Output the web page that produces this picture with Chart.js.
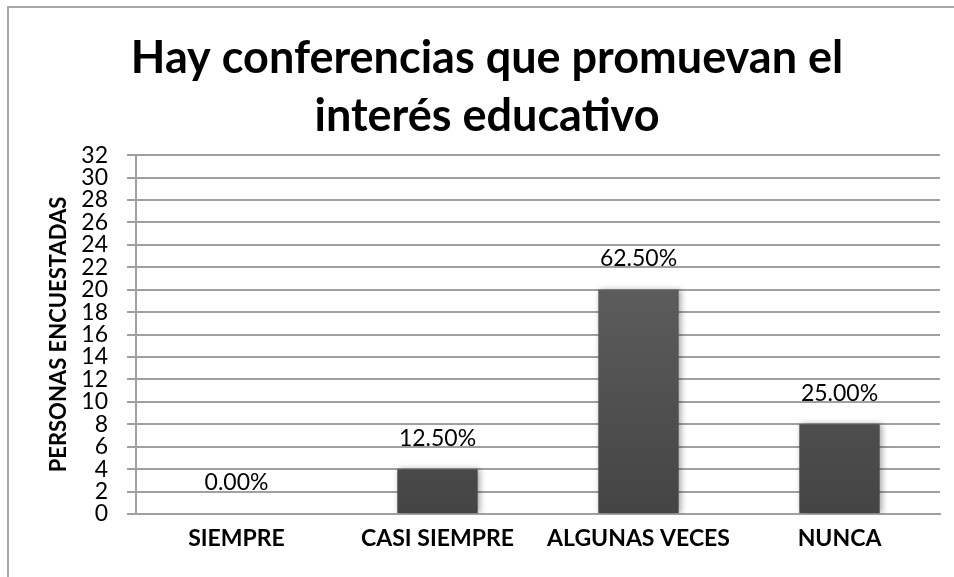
<!DOCTYPE html>
<html lang="es">
<head>
<meta charset="UTF-8">
<title>Conferencias</title>
<style>
    html, body { margin: 0; padding: 0; background: #fff; overflow: hidden; }
    .marco { position: absolute; left: 0; top: 0; width: 954px; height: 577px; }
    .marco::before {
        content: ""; position: absolute; left: 7px; top: 6px; width: 2000px; height: 2000px;
        border-left: 2px solid #a6a6a6; border-top: 2px solid #a6a6a6; pointer-events: none;
    }
    canvas { display: block; }
</style>
</head>
<body>
<div class="marco">
    <canvas id="grafico" width="954" height="577"></canvas>
</div>

<script src="https://cdn.jsdelivr.net/npm/chart.js"></script>
<script>
    // datos
    var categorias = ['SIEMPRE', 'CASI SIEMPRE', 'ALGUNAS VECES', 'NUNCA'];
    var personas = [0, 4, 20, 8];
    var porcentajes = ['0.00%', '12.50%', '62.50%', '25.00%'];
    var ticksY = [0, 2, 4, 6, 8, 10, 12, 14, 16, 18, 20, 22, 24, 26, 28, 30, 32];

    var fuente = 'Lato, "Open Sans", sans-serif';

    // etiquetas de porcentaje encima de cada barra
    var etiquetasBarras = {
        id: 'etiquetasBarras',
        afterDatasetsDraw(chart) {
            var ctx = chart.ctx;
            var meta = chart.getDatasetMeta(0);
            ctx.save();
            ctx.font = '23px ' + fuente;
            ctx.fillStyle = '#000';
            ctx.textAlign = 'center';
            ctx.textBaseline = 'middle';
            meta.data.forEach(function (barra, i) {
                ctx.fillText(porcentajes[i], barra.x, barra.y - 31);
            });
            ctx.restore();
        }
    };

    var sombra = {
        id: 'sombra',
        beforeDatasetsDraw(chart) {
            chart.ctx.save();
            chart.ctx.shadowColor = 'rgba(0,0,0,0.35)';
            chart.ctx.shadowBlur = 6;
            chart.ctx.shadowOffsetX = 2;
        },
        afterDatasetsDraw(chart) {
            chart.ctx.restore();
        }
    };

    function degradado(context) {
        var area = context.chart.chartArea;
        if (!area) return '#555';
        var g = context.chart.ctx.createLinearGradient(0, area.top, 0, area.bottom);
        g.addColorStop(0, '#6a6a6a');
        g.addColorStop(1, '#444444');
        return g;
    }

    var grafico = new Chart(document.getElementById('grafico'), {
        type: 'bar',
        data: {
            labels: categorias,
            datasets: [{
                label: 'Personas encuestadas',
                data: personas,
                backgroundColor: degradado,
                borderWidth: 0,
                barPercentage: 0.4,
                categoryPercentage: 1
            }]
        },
        options: {
            responsive: false,
            animation: false,
            devicePixelRatio: 1,
            layout: { padding: { left: 34, right: 14, top: 0, bottom: 0 } },
            plugins: {
                legend: { display: false },
                tooltip: { enabled: false },
                title: {
                    display: true,
                    text: ['Hay conferencias que promuevan el', 'interés educativo'],
                    color: '#000',
                    font: { family: fuente, size: 45, weight: 'bold', lineHeight: 1.29 },
                    padding: { top: 29, bottom: 10 }
                }
            },
            scales: {
                x: {
                    grid: { display: false, drawTicks: false },
                    border: { display: true, color: '#a0a0a0', width: 2 },
                    ticks: {
                        color: '#000',
                        padding: 11,
                        font: { family: fuente, size: 23, weight: 'bold' },
                        maxRotation: 0,
                        autoSkip: false
                    },
                    afterFit: function (scale) { scale.height = 63; }
                },
                y: {
                    min: 0,
                    max: 32,
                    afterBuildTicks: function (scale) {
                        scale.ticks = ticksY.map(function (v) { return { value: v }; });
                    },
                    grid: { color: '#a0a0a0', lineWidth: 2, tickLength: 9 },
                    border: { display: true, color: '#a0a0a0', width: 2 },
                    ticks: {
                        color: '#000',
                        padding: 19,
                        font: { family: fuente, size: 23 },
                        autoSkip: false
                    },
                    title: {
                        display: true,
                        text: 'PERSONAS ENCUESTADAS',
                        color: '#000',
                        font: { family: fuente, size: 22, weight: 'bold' },
                        padding: { top: 12, bottom: 0 }
                    },
                    afterFit: function (scale) { scale.width = 102; }
                }
            }
        },
        plugins: [sombra, etiquetasBarras]
    });
</script>
</body>
</html>
